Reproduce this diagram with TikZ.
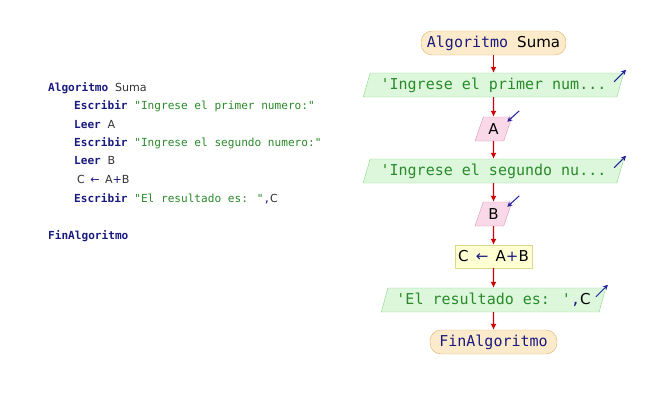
\documentclass[tikz,border=0pt]{standalone}
\usepackage{fontspec}
\usetikzlibrary{shapes.geometric,arrows.meta}
\newfontfamily\monof{DejaVu Sans Mono}
\newfontfamily\sansf{DejaVu Sans}
\definecolor{kw}{HTML}{1A1A80}
\definecolor{str}{HTML}{2A8A2A}
\definecolor{idc}{HTML}{333333}
\definecolor{termfill}{HTML}{FCEBCB}
\definecolor{termdraw}{HTML}{E0B070}
\definecolor{outfill}{HTML}{DDF7DD}
\definecolor{outdraw}{HTML}{8CD68C}
\definecolor{infill}{HTML}{F9D9E8}
\definecolor{indraw}{HTML}{D896B4}
\definecolor{procfill}{HTML}{FFFFD4}
\definecolor{procdraw}{HTML}{D9D98C}
\definecolor{flow}{HTML}{CC0000}
\definecolor{ioarrow}{HTML}{2020A0}
\tikzset{
  code/.style={anchor=base west, inner sep=0pt, font=\fontsize{11.1}{13}\selectfont},
  termbox/.style={draw=termdraw, fill=termfill, rounded corners=11pt, minimum height=24pt, inner sep=2pt, font=\fontsize{15}{18}\selectfont},
  outbox/.style={trapezium, trapezium left angle=69, trapezium right angle=111, trapezium stretches=true, draw=outdraw, fill=outfill, minimum height=24pt, inner sep=1pt, font=\fontsize{15}{18}\selectfont},
  inbox/.style={trapezium, trapezium left angle=69, trapezium right angle=111, trapezium stretches=true, draw=indraw, fill=infill, minimum height=24pt, minimum width=37pt, inner sep=1pt, font=\fontsize{15}{18}\selectfont},
  procbox/.style={draw=procdraw, fill=procfill, minimum height=23pt, minimum width=77pt, inner sep=1pt, font=\fontsize{15}{18}\selectfont},
  flowarrow/.style={draw=flow, line width=1.1pt, -{Latex[length=6pt,width=6pt]}},
  ioar/.style={draw=ioarrow, line width=1pt, -{Stealth[length=5pt,width=5pt]}}
}
\newcommand{\kwd}[1]{{\monof\bfseries\color{kw}#1}}
\newcommand{\strg}[1]{{\monof\color{str}#1}}
\newcommand{\idn}[1]{{\sansf\color{idc}#1}}
\newcommand{\msp}{{\monof\ }}
\begin{document}
\begin{tikzpicture}[x=1pt,y=-1pt]
\useasboundingbox (0,0) rectangle (656,415);
% code listing
\node[code] (l1) at (48,91) {\kwd{Algoritmo}\msp\idn{Suma}};
\node[code] (l2) at (74,109.5) {\kwd{Escribir}\msp\strg{"Ingrese el primer numero:"}};
\node[code] (l3) at (74,128) {\kwd{Leer}\msp\idn{A}};
\node[code] (l4) at (74,146) {\kwd{Escribir}\msp\strg{"Ingrese el segundo numero:"}};
\node[code] (l5) at (74,164.5) {\kwd{Leer}\msp\idn{B}};
\node[code] (l6) at (77,183) {\idn{C\, {\color{kw}←}\, A{\color{kw}+}B}};
\node[code] (l7) at (74,202) {\kwd{Escribir}\msp\strg{"El resultado es: "}{\monof\color{kw},}\idn{C}};
\node[code] (l8) at (48,239) {\kwd{FinAlgoritmo}};
% flowchart
\node[termbox, minimum width=145pt] (start) at (493.5,43) {{\monof\color{kw}Algoritmo }{\sansf Suma}};
\node[outbox, minimum width=261pt] (p1) at (493.5,85) {\strg{'Ingrese el primer num...}};
\node[inbox] (a) at (493.5,129) {\sansf A};
\node[outbox, minimum width=261pt] (p2) at (493.5,171) {\strg{'Ingrese el segundo nu...}};
\node[inbox] (b) at (493.5,214) {\sansf B};
\node[procbox] (proc) at (493.5,256.5) {\sansf C\, {\color{kw}←}\, A{\color{kw}+}B};
\node[outbox, minimum width=225pt] (p3) at (493.5,300) {\strg{'El resultado es: '}{\monof\color{kw},}{\sansf C}};
\node[termbox, minimum width=127pt] (end) at (493.5,342) {{\monof\color{kw}FinAlgoritmo}};
\draw[flowarrow] (start) -- (p1);
\draw[flowarrow] (p1) -- (a);
\draw[flowarrow] (a) -- (p2);
\draw[flowarrow] (p2) -- (b);
\draw[flowarrow] (b) -- (proc);
\draw[flowarrow] (proc) -- (p3);
\draw[flowarrow] (p3) -- (end);
% io markers
\foreach \n in {p1,p2,p3}{
  \coordinate (\n o1) at ([shift={(-10,9)}]\n.top right corner);
  \coordinate (\n o2) at ([shift={(2,-3)}]\n.top right corner);
  \draw[ioar] (\n o1) -- (\n o2);
}
\foreach \n in {a,b}{
  \coordinate (\n i1) at ([shift={(7,-6)}]\n.top right corner);
  \coordinate (\n i2) at ([shift={(-5,5)}]\n.top right corner);
  \draw[ioar] (\n i1) -- (\n i2);
}
\end{tikzpicture}
\end{document}
